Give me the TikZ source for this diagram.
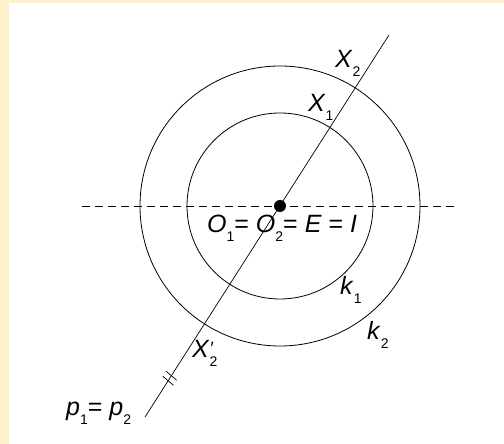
\documentclass[tikz,border=0pt]{standalone}
\usepackage{fontspec}
\setmainfont{Liberation Sans}
\usetikzlibrary{calc}
\definecolor{paper}{RGB}{254,240,200}
\newcommand{\subidx}[1]{\raisebox{-9pt}{\fontsize{14}{14}\selectfont\upshape #1}}

\begin{document}
\begin{tikzpicture}[x=1pt, y=1pt, font=\fontsize{25}{28}\selectfont,
  lab/.style={anchor=base west, inner sep=0pt}]
  \useasboundingbox (0,0) rectangle (504,444);
  \fill[paper] (0,0) rectangle (504,444);
  \fill[white] (9,0) rectangle (504,441);

  \coordinate (O) at (280,238);
  \coordinate (P) at (145,27);
  \coordinate (Q) at (389,409);
  \coordinate (L) at (82,238);
  \coordinate (R) at (458,238);
  \coordinate (T1) at ($(P)!43pt!(Q)$);
  \coordinate (T2) at ($(P)!49pt!(Q)$);

  \draw[line width=0.8pt] (O) circle (93pt);
  \draw[line width=0.8pt] (O) circle (140pt);
  \draw[line width=0.8pt, dash pattern=on 8pt off 5pt] (L) -- (R);
  \draw[line width=0.7pt] (P) -- (Q);

  % double tick on p
  \draw[line width=0.7pt] ($(T1)+(-40:7)$) -- ($(T1)+(140:7)$);
  \draw[line width=0.7pt] ($(T2)+(-40:7)$) -- ($(T2)+(140:7)$);

  \fill (O) circle (6pt);

  \node[lab] (x2) at (335,376) {\textit{X}\subidx{2}};
  \node[lab] (x1) at (308,332) {\textit{X}\subidx{1}};
  \node[lab] (ctr) at (207,211) {\textit{O}\subidx{1}= \textit{O}\subidx{2}= \textit{E} = \textit{I}};
  \node[lab] (k1) at (340,149) {\textit{k}\subidx{1}};
  \node[lab] (k2) at (367,104) {\textit{k}\subidx{2}};
  \node[lab] (x2p) at (192,86) {\textit{X}\rlap{\subidx{2}}\raisebox{3pt}{\fontsize{18}{18}\selectfont\textit{\char"2032}}};
  \node[lab] (p) at (66,28) {\textit{p}\subidx{1}= \textit{p}\subidx{2}};
\end{tikzpicture}
\end{document}
